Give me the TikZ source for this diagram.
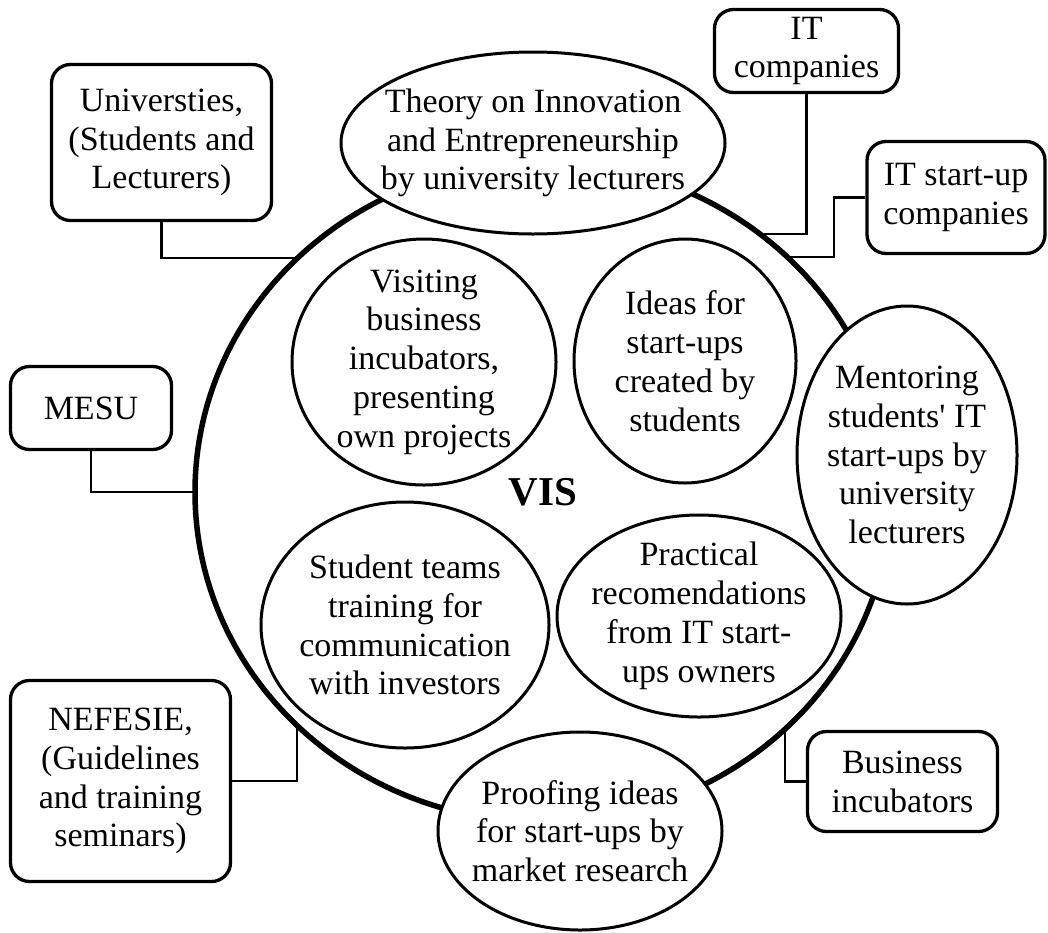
\documentclass[tikz,border=0pt]{standalone}
\usepackage{fontspec}
\setmainfont{Liberation Serif}
\usetikzlibrary{shapes.geometric}
\begin{document}
\begin{tikzpicture}[x=1pt,y=-1pt,
  lbl/.style={align=center, font=\fontsize{34}{38.8}\selectfont, inner sep=0pt},
  partner/.style={lbl, draw, line width=3.3pt, rounded corners=19pt},
  link/.style={line width=2.8pt},
  field/.style={ellipse, draw, fill=white, line width=3pt, inner sep=0pt},
  hub/.style={ellipse, draw, fill=white, line width=5.5pt, inner sep=0pt,
              font=\fontsize{41}{45}\selectfont\bfseries}
]
\useasboundingbox (0,0) rectangle (1048,932);

% partner organisations around the system
\node[partner, minimum width=220pt, minimum height=156pt] (univ) at (161.5,142.5)
  {Universties,\\(Students and\\Lecturers)};
\node[partner, minimum width=184pt, minimum height=83pt] (itc) at (806.5,51)
  {IT\\companies};
\node[partner, minimum width=178pt, minimum height=112pt] (itsu) at (956,197.5)
  {IT start-up\\companies};
\node[partner, minimum width=161pt, minimum height=83pt] (mesu) at (91,408)
  {MESU};
\node[partner, minimum width=220pt, minimum height=201pt] (nef) at (120.5,781)
  {NEFESIE,\\(Guidelines\\and training\\seminars)};
\node[partner, minimum width=190pt, minimum height=100pt] (bus) at (902.5,781.5)
  {Business\\incubators};

% points just inside the rim of the big circle
\coordinate (c1) at (306,258);
\coordinate (c2) at (752,234);
\coordinate (k3) at (834,257);
\coordinate (c3) at (780,257);
\coordinate (c4) at (205,492);
\coordinate (c5) at (297,718);
\coordinate (c6) at (785,722);

\draw[link] (univ.south) |- (c1);
\draw[link] (itc.south) |- (c2);
\draw[link] (itsu.west) -| (k3) -- (c3);
\draw[link] (mesu.south) |- (c4);
\draw[link] (nef.east) -| (c5);
\draw[link] (bus.west) -| (c6);

% the system itself
\node[hub, minimum width=696pt, minimum height=660pt] (vis) at (543,492) {VIS};

% activities
\node[field, minimum width=384pt, minimum height=182pt] (theoryE) at (533,143) {};
\node[field, minimum width=264pt, minimum height=246pt] (visitE) at (424,362) {};
\node[field, minimum width=222pt, minimum height=244pt] (ideasE) at (685,361) {};
\node[field, minimum width=220pt, minimum height=298pt] (mentorE) at (907,455) {};
\node[field, minimum width=288pt, minimum height=246pt] (teamE) at (405,625) {};
\node[field, minimum width=284pt, minimum height=202pt] (practE) at (699,616) {};
\node[field, minimum width=284pt, minimum height=198pt] (proofE) at (580,831) {};

\node[lbl] (theory) at (theoryE.center)
  {Theory on Innovation\\and Entrepreneurship\\by university lecturers};
\node[lbl] (visit) at (visitE.center)
  {Visiting\\business\\incubators,\\presenting\\own projects};
\node[lbl] (ideas) at (ideasE.center)
  {Ideas for\\start-ups\\created by\\students};
\node[lbl] (mentor) at (mentorE.center)
  {Mentoring\\students\textquotesingle{} IT\\start-ups by\\university\\lecturers};
\node[lbl] (team) at (teamE.center)
  {Student teams\\training for\\communication\\with investors};
\node[lbl] (pract) at (practE.center)
  {Practical\\recomendations\\from IT start-\\ups owners};
\node[lbl] (proof) at (proofE.center)
  {Proofing ideas\\for start-ups by\\market research};
\end{tikzpicture}
\end{document}
